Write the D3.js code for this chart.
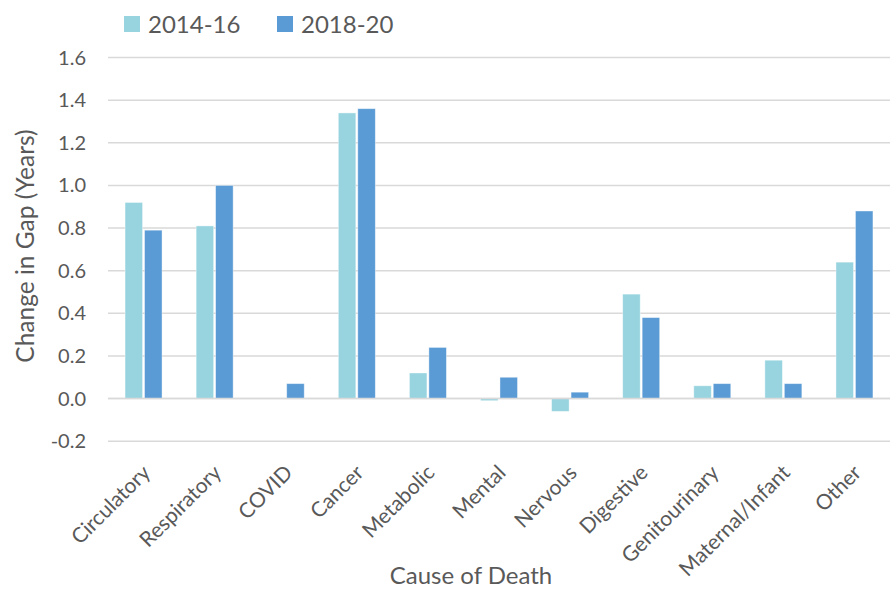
<!DOCTYPE html>
<html>
<head>
<meta charset="utf-8">
<script src="https://cdn.jsdelivr.net/npm/d3@7"></script>
<style>
  html, body { margin: 0; padding: 0; background: #fff; }
  svg text { font-family: Lato, "Open Sans", sans-serif; fill: #595959; }
</style>
</head>
<body>
<svg id="chart" width="895" height="590"></svg>
<script>
// Change in life-expectancy gap by cause of death
const categories = ["Circulatory", "Respiratory", "COVID", "Cancer", "Metabolic", "Mental",
  "Nervous", "Digestive", "Genitourinary", "Maternal/Infant", "Other"];
const seriesNames = ["2014-16", "2018-20"];
const values2014 = [0.92, 0.81, 0.00, 1.34, 0.12, -0.01, -0.06, 0.49, 0.06, 0.18, 0.64];
const values2018 = [0.79, 1.00, 0.07, 1.36, 0.24, 0.10, 0.03, 0.38, 0.07, 0.07, 0.88];
const yTicks = [-0.2, 0.0, 0.2, 0.4, 0.6, 0.8, 1.0, 1.2, 1.4, 1.6];
const colors = ["#98D4DF", "#5B9BD5"];

const svg = d3.select("#chart");
const plotLeft = 108, plotRight = 890, plotTop = 57.5, plotBottom = 441.2;

const x = d3.scaleBand().domain(categories).range([plotLeft, plotRight]).paddingInner(0).paddingOuter(0);
const y = d3.scaleLinear().domain([-0.2, 1.6]).range([plotBottom, plotTop]);
const x1 = d3.scaleBand().domain(seriesNames).range([0, 37]).paddingInner(0.1);
const groupOffset = (x.bandwidth() - 37) / 2;

// gridlines
svg.append("g").selectAll("line").data(yTicks).join("line")
  .attr("x1", plotLeft).attr("x2", plotRight)
  .attr("y1", d => y(d)).attr("y2", d => y(d))
  .attr("stroke", "#D9D9D9").attr("stroke-width", 1.5);

// y tick labels (plain hyphen for negatives)
svg.append("g").selectAll("text").data(yTicks).join("text")
  .attr("x", 86).attr("y", d => y(d)).attr("dy", "0.35em")
  .attr("text-anchor", "end").attr("font-size", 20)
  .text(d => d3.format(".1f")(d).replace("\u2212", "-"));

// bars
const rows = categories.map((c, i) => ({ c, vals: [values2014[i], values2018[i]] }));
const groups = svg.append("g").selectAll("g").data(rows).join("g")
  .attr("transform", d => `translate(${x(d.c) + groupOffset},0)`);
groups.selectAll("rect").data(d => d.vals.map((v, k) => ({ v, k })).filter(e => e.v !== 0)).join("rect")
  .attr("x", e => x1(seriesNames[e.k]))
  .attr("width", x1.bandwidth())
  .attr("y", e => Math.min(y(e.v), y(0)))
  .attr("height", e => Math.abs(y(e.v) - y(0)))
  .attr("fill", e => colors[e.k])
  .attr("stroke", "#ffffff").attr("stroke-opacity", 0.5).attr("stroke-width", 0.8);

// zero line on top of bars
svg.append("line")
  .attr("x1", plotLeft).attr("x2", plotRight).attr("y1", y(0)).attr("y2", y(0))
  .attr("stroke", "#D9D9D9").attr("stroke-width", 1.5);

// category labels
svg.append("g").selectAll("text").data(categories).join("text")
  .attr("transform", d => `translate(${x(d) + x.bandwidth() / 2 + 8},${474}) rotate(-45)`)
  .attr("text-anchor", "end").attr("font-size", 21)
  .text(d => d);

// axis titles
svg.append("text")
  .attr("x", 471).attr("y", 584).attr("text-anchor", "middle").attr("font-size", 24)
  .text("Cause of Death");
svg.append("text")
  .attr("transform", "translate(34,246) rotate(-90)")
  .attr("text-anchor", "middle").attr("font-size", 24.5)
  .text("Change in Gap (Years)");

// legend
const legendX = [124, 277];
const lg = svg.append("g").selectAll("g").data(seriesNames).join("g")
  .attr("transform", (d, i) => `translate(${legendX[i]},16)`);
lg.append("rect").attr("width", 16).attr("height", 16).attr("fill", (d, i) => colors[i]);
lg.append("text").attr("x", 24).attr("y", 8).attr("dy", "0.36em")
  .attr("font-size", 24).text(d => d);
</script>
</body>
</html>
